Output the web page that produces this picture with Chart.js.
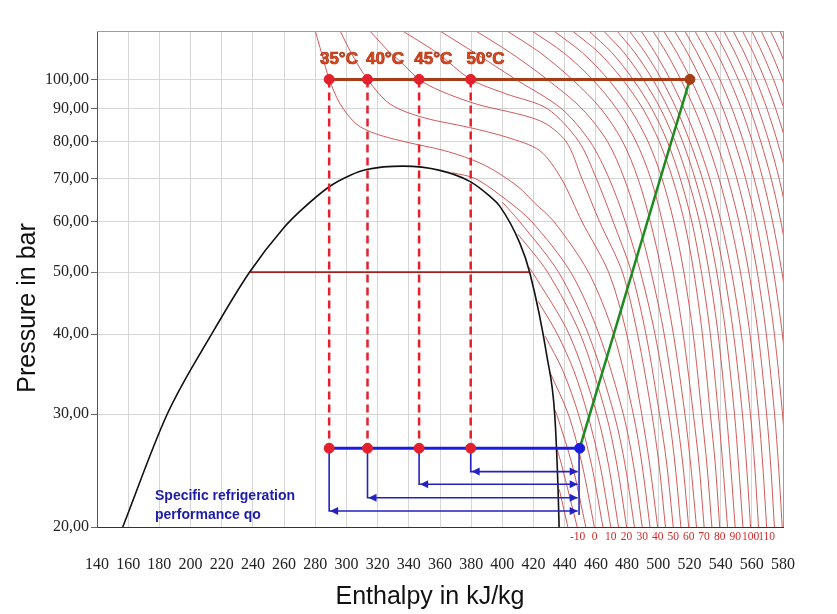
<!DOCTYPE html>
<html><head><meta charset="utf-8">
<script src="https://cdn.jsdelivr.net/npm/chart.js@4.4.1/dist/chart.umd.min.js"></script>
<style>html,body{margin:0;padding:0;background:#fff;}#wrap{width:837px;height:614px;}</style>
</head><body><div id="wrap"><canvas id="c" width="837" height="614"></canvas></div>
<script>
// ---------- data ----------
const pressureTicks = [20, 30, 40, 50, 60, 70, 80, 90, 100];
const domeH = [156.5,185,213.5,237.6,259.4,270.1,289.4,302.2,312.9,336.3,359.9,379.1,391.9,398.3,411.2,417.6,428.7,433.6,435.7,436.4];
const domeP = [20,30,40,49.9,58.5,62.2,68.1,70.8,72.3,73.2,72.1,69.3,65.7,63.4,55.5,49.9,36.8,29.9,23.0,20];
const twoPhaseLineH = [237.6, 417.6];
const twoPhaseLineP = 50;

const cycleLabels = ['35°C', '40°C', '45°C', '50°C'];
const gasCoolerOutletH = [288.9, 313.5, 346.6, 379.7];
const cycleLabelH = [283, 312.5, 343.5, 377];
const cycleLabelP = 107.6;
const highPressure = 100;
const evapPressure = 26.55;
const compressorOutletH = 520.3;
const evapOutletH = 449.6;
const arrowP = [21.19, 22.22, 23.32, 24.41];
const arrowEndH = 448.3;
const arrowStemH = 449.2;
const arrowStemBottomP = 20.88;
const noteLines = ['Specific refrigeration', 'performance qo'];
const noteH = 177.2;
const noteP = [22.38, 20.88];

// isotherms: enthalpy (kJ/kg) at these pressures (bar); null = not drawn there
const isoPressures = [119, 110, 100, 90, 80, 70, 60, 50, 40, 30, 25, 20];
const isoTemps = [-15,-10,-5,0,5,10,15,20,25,30,35,40,45,50,55,60,65,70,75,80,85,90,95,100,105,110,115,120,125,130,135,140,145,150,155,160,165,170,175];
const N = null;
const isoH = [
 [N,N,N,N,N,N,N,N,N,N,N,442],
 [N,N,N,N,N,N,N,N,N,N,438,448],
 [N,N,N,N,N,N,N,N,N,434.8,444.8,453.5],
 [N,N,N,N,N,N,N,N,N,442.3,451.2,459],
 [N,N,N,N,N,N,N,N,N,448.8,457.2,464.5],
 [N,N,N,N,N,N,N,N,435.3,454.7,462.6,469.5],
 [N,N,N,N,N,N,N,419.3,442.8,460.7,468.1,474.5],
 [N,N,N,N,N,N,N,429,450,466.5,473.5,479.7],
 [N,N,N,N,N,N,411,436,455.2,471.7,478.7,484.7],
 [N,N,N,N,N,382.6,418.7,443.8,462,477.6,484.1,489.7],
 [280,284,289,N,N,N,433,455.2,471.4,484,489.6,494.7],
 [296,303,313.5,N,N,437.8,451,468.1,479.8,489.4,494.5,499.6],
 [315,328,346.6,N,440.8,451,462.3,477,486.7,495.9,500.5,504.6],
 [336,358.2,379.7,428.8,449,460.3,471,482.8,492.1,500.8,505.5,509.6],
 [360,382.3,408.6,437.9,456.2,468.5,478.8,488.6,497.9,506.7,510.8,514.5],
 [383,405.3,428.7,451,467.4,478.2,487.1,495.4,503.8,511.6,515.8,519.5],
 [403,424.4,444.8,463.2,477.1,487,494.9,502.3,509.7,517.1,520.8,524.5],
 [419,439.4,457.8,473.3,485.7,495.2,502.6,509.6,516,522.5,526.2,529.4],
 [433,451.4,467.9,481.9,493.4,502.4,509.9,516.4,522.4,527.9,531.2,534.4],
 [445,462,477,490.1,500.6,509.2,516.7,522.8,528.3,533.4,536.6,539.4],
 [455.5,470.4,483.8,495.8,505.8,514.1,521.5,527.7,533.4,538.6,541.4,544.4],
 [465,478.1,490.3,501.4,510.8,519,526.4,532.6,538.4,543.7,546.4,549.3],
 [473.5,485.1,496.4,506.5,515.6,523.6,531,537.5,543.4,548.9,551.5,554.3],
 [481.5,491.7,502.1,511.6,520.2,528.3,535.6,542.2,548.3,554,556.6,559.2],
 [489,498,507.6,516.6,525,533,540.2,547,553.3,559.1,561.8,564.3],
 [496.5,505.3,514.4,523.2,531.3,539,546.1,552.7,558.8,564.4,567,569.5],
 [503.5,512,520.9,529.3,537.2,544.7,551.7,558.1,564.1,569.5,572.1,574.5],
 [510.5,518.7,527.3,535.5,543.2,550.4,557.2,563.5,569.3,574.6,577.1,579.5],
 [517,524.9,533.4,541.5,548.9,556,562.7,568.7,574.5,579.7,582.2,584.5],
 [523.5,531.2,539.5,547.3,554.6,561.5,568,574,579.6,584.7,N,N],
 [530,537.6,545.6,553.2,560.3,567,573.3,579.3,584.8,N,N,N],
 [536,543.4,551.3,558.8,565.7,572.4,578.6,584.4,N,N,N,N],
 [542,549.3,556.9,564.1,571,577.5,583.5,N,N,N,N,N],
 [548,555.1,562.6,569.7,576.4,582.9,N,N,N,N,N,N],
 [554,561,568.3,575.3,581.9,N,N,N,N,N,N,N],
 [560,566.7,573.9,580.7,N,N,N,N,N,N,N,N],
 [566,572.5,579.5,586,N,N,N,N,N,N,N,N],
 [572,578.5,585,N,N,N,N,N,N,N,N,N],
 [578,584,N,N,N,N,N,N,N,N,N,N]
];
// saturated-vapour start points of the subcritical isotherms [h, p]
const isoSat = {'-15':[436.5,22.9],'-10':[435,26.5],'-5':[433.5,30.5],'0':[430.5,34.9],'5':[427.5,39.7],'10':[423,45],'15':[417,50.9],'20':[410,57.3],'25':[400,64.3],'30':[368,71.5]};
// extra points read in the bends [h, p]
const isoExtra = {
 '5':[[439,35]], '10':[[446,35]], '30':[[402,65]],
 '35':[[296,91.5],[306.5,85.1],[319,82.2],[338.5,79.8],[362,77.5],[380,75],[393,72.5],[410,68],[421,64]],
 '40':[[328,91.5],[349,87.2],[379,84.1],[403,81.2],[424,77.4]],
 '45':[[334,107],[360,96],[383.4,91.5],[424,86.2]],
 '50':[[402,95]]
};

const bottomLabels = ['-10','0','10','20','30','40','50','60','70','80','90','100','110'];
const bottomLabelH = [448.3,459.2,469.5,479.7,489.7,499.6,509.6,519.5,529.4,539.4,549.3,559.2,569.5];

// ---------- styles ----------
const RED = '#e3202c', BROWN = '#a83c16', BLUE = '#1c1ce0', ARROW = '#2222c4', GREEN = '#1d8a22', ISO = 'rgba(205,72,72,0.9)';

const datasets = [];
datasets.push({data: gasCoolerOutletH.map(h => ({x:h, y:highPressure})).concat(gasCoolerOutletH.map(h => ({x:h, y:evapPressure}))),
  showLine:false, pointRadius:5, pointBackgroundColor:RED, pointBorderColor:RED, order:0});
datasets.push({data:[{x:compressorOutletH, y:highPressure}], showLine:false, pointRadius:5, pointBackgroundColor:BROWN, pointBorderColor:BROWN, order:0});
datasets.push({data:[{x:evapOutletH, y:evapPressure}], showLine:false, pointRadius:5, pointBackgroundColor:BLUE, pointBorderColor:BLUE, order:0});
datasets.push({data:[{x:gasCoolerOutletH[0], y:highPressure},{x:compressorOutletH, y:highPressure}], showLine:true, borderColor:BROWN, borderWidth:3, pointRadius:0, order:2});
datasets.push({data:[{x:evapOutletH, y:evapPressure},{x:compressorOutletH, y:highPressure}], showLine:true, borderColor:GREEN, borderWidth:2.5, pointRadius:0, order:2});
datasets.push({data:[{x:gasCoolerOutletH[0], y:evapPressure},{x:evapOutletH, y:evapPressure}], showLine:true, borderColor:BLUE, borderWidth:3, pointRadius:0, order:2});
gasCoolerOutletH.forEach(h => {
  datasets.push({data:[{x:h, y:highPressure},{x:h, y:evapPressure}], showLine:true, borderColor:RED, borderWidth:2.5, borderDash:[8,5], pointRadius:0, order:3});
});
gasCoolerOutletH.forEach((h, i) => {
  datasets.push({data:[{x:h, y:evapPressure},{x:h, y:arrowP[i]},{x:arrowEndH, y:arrowP[i]}], showLine:true, borderColor:ARROW, borderWidth:1.6, pointRadius:0, order:3});
});
datasets.push({data:[{x:arrowStemH, y:evapPressure},{x:arrowStemH, y:arrowStemBottomP}], showLine:true, borderColor:ARROW, borderWidth:1.6, pointRadius:0, order:3});
datasets.push({data: domeH.map((h,i)=>({x:h, y:domeP[i]})), showLine:true, borderColor:'#111', borderWidth:1.6, pointRadius:0, cubicInterpolationMode:'monotone', order:5});
datasets.push({data: twoPhaseLineH.map(h=>({x:h, y:twoPhaseLineP})), showLine:true, borderColor:'#a81e1e', borderWidth:1.8, pointRadius:0, order:6});
isoTemps.forEach((T, i) => {
  let pts = [];
  isoH[i].forEach((h, j) => { if (h !== null) pts.push([h, isoPressures[j]]); });
  if (isoSat[String(T)]) pts.push(isoSat[String(T)]);
  if (isoExtra[String(T)]) pts = pts.concat(isoExtra[String(T)]);
  pts.sort((a, b) => b[1] - a[1]);
  datasets.push({data: pts.map(p => ({x:p[0], y:p[1]})), showLine:true, borderColor:ISO, borderWidth:1, pointRadius:0, tension:0.3, order:10});
});

function tri(ctx, x, y, dir, len, half) {
  ctx.beginPath();
  ctx.moveTo(x, y);
  ctx.lineTo(x - dir*len, y - half);
  ctx.lineTo(x - dir*len, y + half);
  ctx.closePath();
  ctx.fill();
}

const overlay = {
  id: 'overlay',
  afterDatasetsDraw(chart) {
    const {ctx, scales, chartArea:a} = chart;
    const X = scales.x, Y = scales.y;
    ctx.save();
    ctx.strokeStyle = '#9c9c9c'; ctx.lineWidth = 1;
    ctx.beginPath(); ctx.moveTo(a.left, a.top + 0.5); ctx.lineTo(a.right + 0.5, a.top + 0.5); ctx.lineTo(a.right + 0.5, a.bottom); ctx.stroke();
    ctx.fillStyle = ARROW;
    arrowP.forEach((p, i) => {
      const yy = Y.getPixelForValue(p);
      tri(ctx, X.getPixelForValue(gasCoolerOutletH[i]) + 1, yy, -1, 8, 4);
      tri(ctx, X.getPixelForValue(arrowEndH), yy, 1, 8, 4);
    });
    ctx.font = 'bold 17px "Liberation Sans", Arial, sans-serif';
    ctx.textAlign = 'left'; ctx.textBaseline = 'middle';
    ctx.lineWidth = 0.7; ctx.strokeStyle = '#a83214'; ctx.fillStyle = '#dc4a22';
    cycleLabels.forEach((t, i) => {
      const px = X.getPixelForValue(cycleLabelH[i]), py = Y.getPixelForValue(cycleLabelP);
      ctx.fillText(t, px, py); ctx.strokeText(t, px, py);
    });
    ctx.font = 'bold 14px "Liberation Sans", Arial, sans-serif';
    ctx.fillStyle = '#1c1ca8';
    noteLines.forEach((t, i) => ctx.fillText(t, X.getPixelForValue(noteH), Y.getPixelForValue(noteP[i])));
    ctx.font = '11.5px "Liberation Serif", "Times New Roman", serif';
    ctx.fillStyle = '#d42a2a'; ctx.textAlign = 'center';
    bottomLabels.forEach((t, i) => ctx.fillText(t, X.getPixelForValue(bottomLabelH[i]), a.bottom + 10));
    ctx.fillStyle = '#111';
    ctx.font = '25px "Liberation Sans", Arial, sans-serif';
    ctx.fillText('Enthalpy in kJ/kg', 430, 597);
    ctx.translate(28, 308); ctx.rotate(-Math.PI/2);
    ctx.fillText('Pressure in bar', 0, 0);
    ctx.restore();
  }
};

new Chart(document.getElementById('c'), {
  type: 'scatter',
  data: {datasets},
  options: {
    responsive: false, animation: false, devicePixelRatio: 1,
    layout: {padding: {top: 31, right: 54, left: 0, bottom: 0}},
    plugins: {legend: {display: false}, tooltip: {enabled: false}},
    scales: {
      x: {type: 'linear', min: 140, max: 580,
        ticks: {stepSize: 20, autoSkip: false, maxRotation: 0, padding: 28, color: '#222', font: {family: '"Liberation Serif", serif', size: 16}},
        grid: {color: '#d6d6d6', drawTicks: false},
        border: {color: '#333', width: 1},
        afterFit: s => { s.height = 87; }},
      y: {type: 'logarithmic', min: 20, max: 119,
        afterBuildTicks: s => { s.ticks = pressureTicks.map(v => ({value: v})); },
        ticks: {padding: 2, color: '#222', font: {family: '"Liberation Serif", serif', size: 16},
          callback: v => Number(v).toFixed(2).replace('.', ',')},
        grid: {color: '#d6d6d6', tickLength: 6, tickColor: '#666'},
        border: {color: '#555', width: 1},
        afterFit: s => { s.width = 97; }}
    }
  },
  plugins: [overlay]
});
</script></body></html>
